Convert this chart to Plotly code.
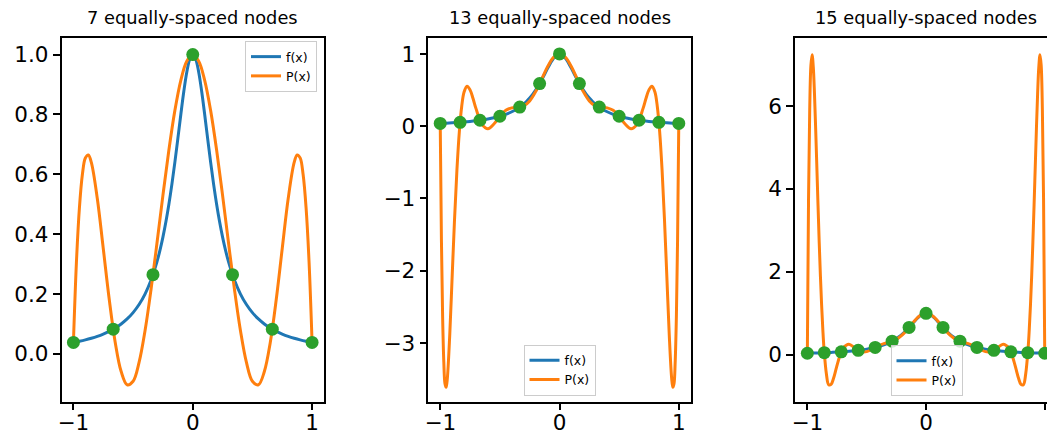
import plotly.graph_objects as go

# ---- data ----
# Runge function f(x), shared by all three panels
f_x = [-1.0, -0.95, -0.9, -0.85, -0.8, -0.75, -0.7, -0.65, -0.6, -0.55, -0.5, -0.45, -0.4,
       -0.35, -0.3, -0.275, -0.25, -0.225, -0.2, -0.175, -0.15, -0.125, -0.1, -0.075, -0.05,
       -0.025, 0.0, 0.025, 0.05, 0.075, 0.1, 0.125, 0.15, 0.175, 0.2, 0.225, 0.25, 0.275, 0.3,
       0.35, 0.4, 0.45, 0.5, 0.55, 0.6, 0.65, 0.7, 0.75, 0.8, 0.85, 0.9, 0.95, 1.0]
f_y = [0.03846, 0.04244, 0.04706, 0.05246, 0.05882, 0.06639, 0.07547, 0.08649, 0.1, 0.11679,
       0.13793, 0.16495, 0.2, 0.24615, 0.30769, 0.34595, 0.39024, 0.44138, 0.5, 0.56637, 0.64,
       0.7191, 0.8, 0.87671, 0.94118, 0.98462, 1.0, 0.98462, 0.94118, 0.87671, 0.8, 0.7191,
       0.64, 0.56637, 0.5, 0.44138, 0.39024, 0.34595, 0.30769, 0.24615, 0.2, 0.16495, 0.13793,
       0.11679, 0.1, 0.08649, 0.07547, 0.06639, 0.05882, 0.05246, 0.04706, 0.04244, 0.03846]

# Panel 1: 7 equally-spaced nodes
p1_x = [-1.0, -0.975, -0.95, -0.925, -0.9, -0.875, -0.85, -0.8, -0.75, -0.7, -0.65, -0.6,
        -0.55, -0.5, -0.45, -0.4, -0.35, -0.3, -0.25, -0.2, -0.15, -0.1, -0.05, 0.0, 0.05,
        0.1, 0.15, 0.2, 0.25, 0.3, 0.35, 0.4, 0.45, 0.5, 0.55, 0.6, 0.65, 0.7, 0.75, 0.8,
        0.85, 0.875, 0.9, 0.925, 0.95, 0.975, 1.0]
p1_y = [0.03846, 0.30497, 0.48713, 0.59934, 0.65479, 0.66479, 0.63974, 0.51906, 0.3523,
        0.18244, 0.03915, -0.05898, -0.10302, -0.0914, -0.02846, 0.07726, 0.21431, 0.36961,
        0.52966, 0.68133, 0.81282, 0.91424, 0.97817, 1.0, 0.97817, 0.91424, 0.81282, 0.68133,
        0.52966, 0.36961, 0.21431, 0.07726, -0.02846, -0.0914, -0.10302, -0.05898, 0.03915,
        0.18244, 0.3523, 0.51906, 0.63974, 0.66479, 0.65479, 0.59934, 0.48713, 0.30497, 0.03846]
n1_x = [-1.0, -0.6667, -0.3333, 0.0, 0.3333, 0.6667, 1.0]
n1_y = [0.03846, 0.08257, 0.26471, 1.0, 0.26471, 0.08257, 0.03846]

# Panel 2: 13 equally-spaced nodes
p2_x = [-1.0, -0.99, -0.98, -0.97, -0.96, -0.95, -0.94, -0.92, -0.9, -0.88, -0.86, -0.84,
        -0.82, -0.8, -0.775, -0.75, -0.725, -0.7, -0.65, -0.6, -0.55, -0.5, -0.45, -0.4,
        -0.35, -0.3, -0.25, -0.2, -0.15, -0.1, -0.05, 0.0, 0.05, 0.1, 0.15, 0.2, 0.25, 0.3,
        0.35, 0.4, 0.45, 0.5, 0.55, 0.6, 0.65, 0.7, 0.725, 0.75, 0.775, 0.8, 0.82, 0.84,
        0.86, 0.88, 0.9, 0.92, 0.94, 0.95, 0.96, 0.97, 0.98, 0.99, 1.0]
p2_y = [0.03846, -1.5691, -2.63081, -3.26307, -3.56366, -3.61422, -3.48232, -2.88098,
        -2.08339, -1.28816, -0.60487, -0.08194, 0.27222, 0.47332, 0.55327, 0.50304, 0.38338,
        0.24342, 0.02575, -0.03462, 0.03071, 0.13793, 0.21965, 0.25408, 0.2614, 0.28188,
        0.35051, 0.4789, 0.64966, 0.82311, 0.95227, 1.0, 0.95227, 0.82311, 0.64966, 0.4789,
        0.35051, 0.28188, 0.2614, 0.25408, 0.21965, 0.13793, 0.03071, -0.03462, 0.02575,
        0.24342, 0.38338, 0.50304, 0.55327, 0.47332, 0.27222, -0.08194, -0.60487, -1.28816,
        -2.08339, -2.88098, -3.48232, -3.61422, -3.56366, -3.26307, -2.63081, -1.5691, 0.03846]
n2_x = [-1.0, -0.8333, -0.6667, -0.5, -0.3333, -0.1667, 0.0, 0.1667, 0.3333, 0.5, 0.6667,
        0.8333, 1.0]
n2_y = [0.03846, 0.05446, 0.08257, 0.13793, 0.26471, 0.59016, 1.0, 0.59016, 0.26471,
        0.13793, 0.08257, 0.05446, 0.03846]

# Panel 3: 15 equally-spaced nodes
p3_x = [-1.0, -0.99, -0.98, -0.97, -0.96, -0.95, -0.94, -0.93, -0.92, -0.91, -0.9, -0.89,
        -0.88, -0.87, -0.86, -0.84, -0.82, -0.8, -0.78, -0.76, -0.74, -0.72, -0.7, -0.65,
        -0.6, -0.55, -0.5, -0.45, -0.4, -0.35, -0.3, -0.25, -0.2, -0.15, -0.1, -0.05, 0.0,
        0.05, 0.1, 0.15, 0.2, 0.25, 0.3, 0.35, 0.4, 0.45, 0.5, 0.55, 0.6, 0.65, 0.7, 0.72,
        0.74, 0.76, 0.78, 0.8, 0.82, 0.84, 0.86, 0.87, 0.88, 0.89, 0.9, 0.91, 0.92, 0.93,
        0.94, 0.95, 0.96, 0.97, 0.98, 0.99, 1.0]
p3_y = [0.03846, 3.745, 5.92339, 6.97867, 7.23359, 6.94225, 6.30189, 5.46211, 4.53443,
        3.59961, 2.71294, 1.91071, 1.21375, 0.63137, 0.16445, -0.44806, -0.72118, -0.71297,
        -0.57109, -0.36334, -0.15025, 0.03017, 0.1593, 0.25642, 0.16773, 0.07994, 0.07801,
        0.14396, 0.22184, 0.27677, 0.31594, 0.37364, 0.48028, 0.63723, 0.81102, 0.94797, 1.0,
        0.94797, 0.81102, 0.63723, 0.48028, 0.37364, 0.31594, 0.27677, 0.22184, 0.14396,
        0.07801, 0.07994, 0.16773, 0.25642, 0.1593, 0.03017, -0.15025, -0.36334, -0.57109,
        -0.71297, -0.72118, -0.44806, 0.16445, 0.63137, 1.21375, 1.91071, 2.71294, 3.59961,
        4.53443, 5.46211, 6.30189, 6.94225, 7.23359, 6.97867, 5.92339, 3.745, 0.03846]
n3_x = [-1.0, -0.8571, -0.7143, -0.5714, -0.4286, -0.2857, -0.1429, 0.0, 0.1429, 0.2857,
        0.4286, 0.5714, 0.7143, 0.8571, 1.0]
n3_y = [0.03846, 0.05163, 0.0727, 0.10913, 0.17883, 0.32886, 0.66216, 1.0, 0.66216,
        0.32886, 0.17883, 0.10913, 0.0727, 0.05163, 0.03846]

titles = ["7 equally-spaced nodes", "13 equally-spaced nodes", "15 equally-spaced nodes"]
y_ticks = [[0.0, 0.2, 0.4, 0.6, 0.8, 1.0], [-3, -2, -1, 0, 1], [0, 2, 4, 6]]
x_ticks = [-1, 0, 1]

# ---- styling ----
W, H = 1047, 435
BLUE, ORANGE, GREEN = "#1f77b4", "#ff7f0e", "#2ca02c"
FONT = "DejaVu Sans"
TICK_SIZE = 21.5

x_dom_px = [(61.5, 324.0), (428.3, 690.7), (795.0, 1047.0)]
y_dom_px = (38.0, 401.5)
x_ranges = [[-1.1, 1.1], [-1.1, 1.1], [-1.104, 1.019]]
y_ranges = [[-0.159, 1.0555], [-3.81, 1.221], [-1.125, 7.64]]
tick_fmt = [".1f", "d", "d"]
legend_pos = [
    dict(x=317 / W, y=1 - 41 / H, xanchor="right", yanchor="top"),
    dict(x=559.5 / W, y=1 - 395.5 / H, xanchor="center", yanchor="bottom"),
    dict(x=926.5 / W, y=1 - 396 / H, xanchor="center", yanchor="bottom"),
]

panels = [
    (f_x, f_y, p1_x, p1_y, n1_x, n1_y),
    (f_x, f_y, p2_x, p2_y, n2_x, n2_y),
    (f_x, f_y, p3_x, p3_y, n3_x, n3_y),
]

fig = go.Figure()
layout = dict(
    width=W, height=H,
    margin=dict(l=0, r=0, t=0, b=0),
    paper_bgcolor="white", plot_bgcolor="white",
    font=dict(family=FONT, color="black"),
    showlegend=True,
    annotations=[],
)

for i, (fx, fy, px, py, nx, ny) in enumerate(panels):
    k = "" if i == 0 else str(i + 1)
    xa, ya = "x" + k, "y" + k
    lg = "legend" + k
    fig.add_trace(go.Scatter(x=fx, y=fy, mode="lines", name="f(x)", xaxis=xa, yaxis=ya,
                             line=dict(color=BLUE, width=3, shape="spline"), legend=lg))
    fig.add_trace(go.Scatter(x=px, y=py, mode="lines", name="P(x)", xaxis=xa, yaxis=ya,
                             line=dict(color=ORANGE, width=3, shape="spline"), legend=lg))
    fig.add_trace(go.Scatter(x=nx, y=ny, mode="markers", name="nodes", xaxis=xa, yaxis=ya,
                             marker=dict(color=GREEN, size=13), showlegend=False))

    x0, x1 = x_dom_px[i]
    layout["xaxis" + k] = dict(
        domain=[x0 / W, x1 / W], range=x_ranges[i], anchor=ya,
        tickmode="array", tickvals=x_ticks, ticks="outside", ticklen=7, tickwidth=1.5,
        tickcolor="black", showline=True, linecolor="black", linewidth=1.5, mirror=True,
        showgrid=False, zeroline=False, ticklabelstandoff=-6,
        tickfont=dict(size=TICK_SIZE, family=FONT, color="black"), automargin=False,
    )
    layout["yaxis" + k] = dict(
        domain=[1 - y_dom_px[1] / H, 1 - y_dom_px[0] / H], range=y_ranges[i], anchor=xa,
        tickmode="array", tickvals=y_ticks[i], tickformat=tick_fmt[i], ticks="outside",
        ticklen=7, tickwidth=1.5, tickcolor="black", showline=True, linecolor="black",
        linewidth=1.5, mirror=(i < 2), showgrid=False, zeroline=False,
        tickfont=dict(size=TICK_SIZE, family=FONT, color="black"), automargin=False,
    )
    layout[lg] = dict(
        **legend_pos[i], bgcolor="rgba(255,255,255,0.8)", bordercolor="#cccccc",
        borderwidth=1, font=dict(size=12.5, family=FONT, color="black"),
        itemwidth=30, tracegroupgap=0,
    )
    layout["annotations"].append(dict(
        text=titles[i], xref=xa, x=0, yref="paper", y=1 - 18 / H, yanchor="middle",
        xanchor="center", showarrow=False, font=dict(size=17.8, family=FONT, color="black"),
    ))

fig.update_layout(**layout)
fig.write_html("out.html")
